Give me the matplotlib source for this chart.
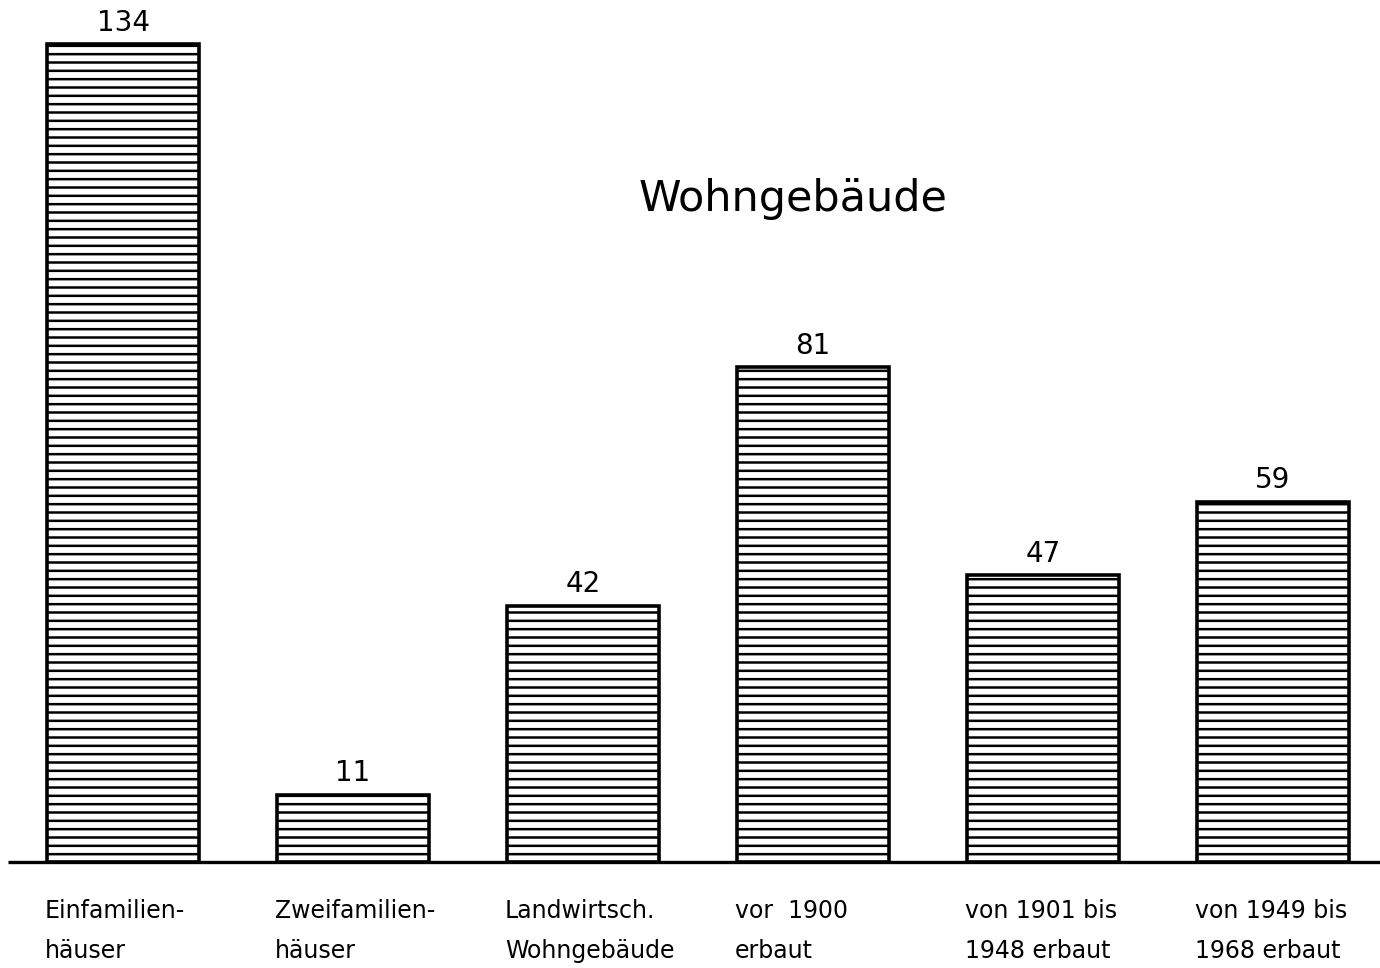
import numpy as np
import matplotlib.pyplot as plt

categories = ['Einfamilien-\nhäuser', 'Zweifamilien-\nhäuser', 'Landwirtsch.\nWohngebäude',
              'vor  1900\nerbaut', 'von 1901 bis\n1948 erbaut', 'von 1949 bis\n1968 erbaut']
values = [134, 11, 42, 81, 47, 59]
title = 'Wohngebäude'

DPI = 100


def setup_pyplot():
    plt.rcParams['font.family'] = 'DejaVu Sans'
    plt.rcParams['hatch.linewidth'] = 1.8
    plt.rcParams['hatch.color'] = 'black'


def draw():
    fig = plt.figure(figsize=(13.8, 9.68), dpi=DPI)
    ax = fig.add_axes([0, 0, 1, 1])

    bar_width = 0.66
    index = np.arange(len(values))
    ax.bar(index, values, bar_width, color='white', edgecolor='black',
           linewidth=2.6, hatch='--', zorder=2)

    # baseline
    ax.hlines([0], -0.5, 5.5, colors='black', linewidth=2.4, zorder=3)

    for i, v in enumerate(values):
        ax.text(i, v + 1.2, str(v), ha='center', va='bottom', fontsize=20)

    for i, c in enumerate(categories):
        ax.text(i - bar_width / 2 - 0.01, -6.0, c, ha='left', va='top', fontsize=17,
                linespacing=1.85)

    ax.text(2.24, 108.6, title, ha='left', va='center', fontsize=31)

    ax.set_xlim(-0.535, 5.465)
    ax.set_ylim(-17.37, 141.2)
    ax.axis('off')
    plt.savefig('out.png', dpi=DPI, facecolor='white')


if __name__ == "__main__":
    setup_pyplot()
    draw()
